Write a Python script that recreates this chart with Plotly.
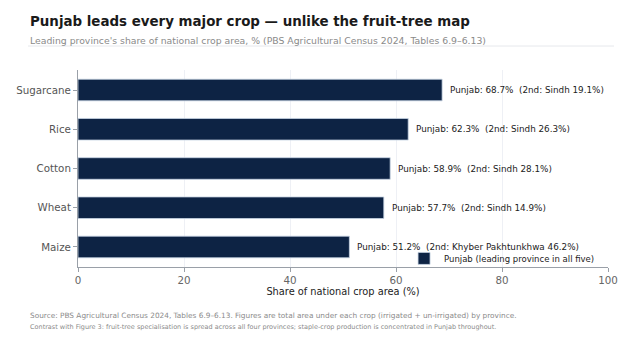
import plotly.graph_objects as go

crops = ["Sugarcane", "Rice", "Cotton", "Wheat", "Maize"]
punjab_share = [68.7, 62.3, 58.9, 57.7, 51.2]
second_name = ["Sindh", "Sindh", "Sindh", "Sindh", "Khyber Pakhtunkhwa"]
second_share = [19.1, 26.3, 28.1, 14.9, 46.2]
x_ticks = [0, 20, 40, 60, 80, 100]

labels = [f"Punjab: {p:.1f}%  (2nd: {n} {s:.1f}%)" for p, n, s in zip(punjab_share, second_name, second_share)]

FONT = "DejaVu Sans"

fig = go.Figure()
fig.add_trace(go.Bar(
    y=crops, x=punjab_share, orientation="h",
    marker=dict(color="#0d2344", line=dict(color="#c8d4e3", width=0.8)),
    width=0.55,
    name="Punjab (leading province in all five)", showlegend=True,
))

for c, p, lab in zip(crops, punjab_share, labels):
    fig.add_annotation(x=p, y=c, xref="x", yref="y", text=lab, showarrow=False,
                       xanchor="left", yanchor="middle", xshift=6,
                       font=dict(family=FONT, size=8.8, color="#222222"))

fig.update_layout(
    width=634, height=341,
    margin=dict(l=78, r=26, t=70, b=74),
    paper_bgcolor="white", plot_bgcolor="white",
    font=dict(family=FONT, color="#222222"),
    title=dict(text="<b>Punjab leads every major crop — unlike the fruit-tree map</b>",
               x=30/634, xanchor="left", y=1-21/341, yanchor="middle",
               font=dict(family=FONT, size=13.4, color="#1a1a1a")),
    legend=dict(x=0.985, y=-0.03, xanchor="right", yanchor="bottom",
                bgcolor="rgba(255,255,255,0)", font=dict(family=FONT, size=8.5, color="#222"),
                itemwidth=30, tracegroupgap=0),
    xaxis=dict(range=[0, 100], tickvals=x_ticks, showgrid=True, gridcolor="#eef0f5",
               gridwidth=1, zeroline=False, showline=True, linecolor="#9aa0a8", linewidth=1,
               ticks="outside", ticklen=4, tickcolor="#9aa0a8",
               tickfont=dict(family=FONT, size=10.3, color="#666666"),
               title=dict(text="Share of national crop area (%)", standoff=2,
                          font=dict(family=FONT, size=9.8, color="#222222"))),
    yaxis=dict(categoryorder="array", categoryarray=crops[::-1], showgrid=False,
               showline=True, linecolor="#9aa0a8", linewidth=1, ticks="outside",
               ticklen=4, tickcolor="#9aa0a8", range=[-0.51, 4.51],
               tickfont=dict(family=FONT, size=10.3, color="#555555")),
)

fig.add_annotation(text="Leading province's share of national crop area, % (PBS Agricultural Census 2024, Tables 6.9–6.13)",
                   xref="paper", yref="paper", x=(28-78)/530, y=1+(70-41)/197,
                   xanchor="left", yanchor="middle", showarrow=False,
                   font=dict(family=FONT, size=9.3, color="#8a8a8a"))
fig.add_shape(type="line", xref="paper", yref="paper",
              x0=(28-78)/530, x1=(614-78)/530, y0=1+(70-46)/197, y1=1+(70-46)/197,
              line=dict(color="#e6e8ec", width=1))
fig.add_annotation(text="Source: PBS Agricultural Census 2024, Tables 6.9–6.13. Figures are total area under each crop (irrigated + un-irrigated) by province.",
                   xref="paper", yref="paper", x=(28-78)/530, y=-(315-267)/197,
                   xanchor="left", yanchor="middle", showarrow=False,
                   font=dict(family=FONT, size=7.35, color="#8a8a8a"))
fig.add_annotation(text="Contrast with Figure 3: fruit-tree specialisation is spread across all four provinces; staple-crop production is concentrated in Punjab throughout.",
                   xref="paper", yref="paper", x=(28-78)/530, y=-(327-267)/197,
                   xanchor="left", yanchor="middle", showarrow=False,
                   font=dict(family=FONT, size=6.5, color="#8a8a8a"))

fig.write_html("out.html")
